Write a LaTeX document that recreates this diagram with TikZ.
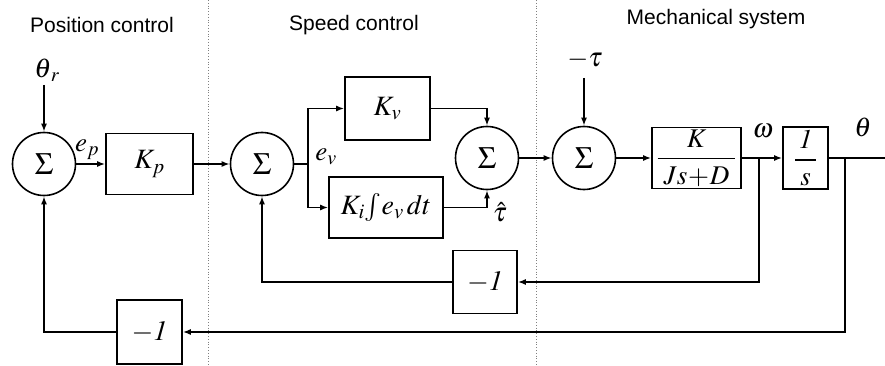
\documentclass[tikz,border=0pt]{standalone}
\usepackage{amsmath}
\usepackage{mathptmx}
\usepackage{fontspec}
\setsansfont{Liberation Sans}
\usetikzlibrary{arrows.meta}
\begin{document}
\begin{tikzpicture}[x=1pt,y=-1pt,
  line width=1.6pt,
  sumnode/.style={circle,draw,minimum size=63pt,inner sep=0pt,font=\fontsize{31}{34}\selectfont},
  blk/.style={rectangle,draw,inner sep=0pt,font=\fontsize{28}{32}\selectfont},
  fracblk/.style={rectangle,draw,inner sep=0pt,font=\fontsize{27}{31}\selectfont},
  lbl/.style={inner sep=0pt,font=\fontsize{27}{30}\selectfont},
  title/.style={inner sep=0pt,font=\sffamily\fontsize{21}{25}\selectfont},
  sep/.style={line width=0.8pt,gray,dotted},
  arr/.style={-{Latex[length=8pt,width=6pt]}}]
\useasboundingbox (0,0) rectangle (885,366);

% titles
\node[title] (t1) at (102,25) {Position control};
\node[title] (t2) at (354,25) {Speed control};
\node[title] (t3) at (716,19) {Mechanical system};

% separators
\coordinate (s1a) at (208,0); \coordinate (s1b) at (208,366);
\coordinate (s2a) at (536,0); \coordinate (s2b) at (536,366);
\draw[sep] (s1a) -- (s1b);
\draw[sep] (s2a) -- (s2b);

% nodes
\node[sumnode] (S1) at (44,164) {$\Sigma$};
\node[blk,minimum width=87pt,minimum height=61pt] (Kp) at (149.5,164) {$K_p$};
\node[sumnode] (S2) at (262,164) {$\Sigma$};
\node[blk,minimum width=85pt,minimum height=63pt] (Kv) at (387.5,108.5) {$K_v$};
\node[blk,minimum width=114pt,minimum height=61pt] (Ki) at (386,207.5) {$K_i\!\int\! e_v\,dt$};
\node[sumnode] (S3) at (487,158) {$\Sigma$};
\node[sumnode] (S4) at (584,158) {$\Sigma$};
\node[fracblk,minimum width=89pt,minimum height=61pt] (G) at (696.5,158) {$\dfrac{K}{\hspace{6pt}Js\mkern-2mu+\mkern-2mu D\hspace{6pt}}$};
\node[fracblk,minimum width=45pt,minimum height=62pt] (I) at (805.5,158) {$\dfrac{\mathit{1}}{\hspace{5pt}s\hspace{5pt}}$};
\node[blk,minimum width=64pt,minimum height=63pt] (F1) at (485,282) {$-\mathit{1}$};
\node[blk,minimum width=65pt,minimum height=64pt] (F2) at (149.5,332) {$-\mathit{1}$};

% labels
\node[lbl] (thr) at (47,70) {$\theta_{\,r}$};
\node[lbl] (ep) at (87,150) {$e_p$};
\node[lbl] (ev) at (326,157) {$e_v$};
\node[lbl] (tauh) at (500,212) {$\hat{\tau}$};
\node[lbl] (mtau) at (585,60) {$-\tau$};
\node[lbl] (om) at (763,131) {$\omega$};
\node[lbl] (th) at (863,127) {$\theta$};

% coordinates
\coordinate (thrin) at (44,85);
\coordinate (tauin) at (584,78);
\coordinate (b1) at (308,164);
\coordinate (b1u) at (308,108.5);
\coordinate (b1d) at (308,207.5);
\coordinate (c3u) at (487,108.5);
\coordinate (c3d) at (487,207.5);
\coordinate (bw) at (759,158);
\coordinate (bwd) at (759,282);
\coordinate (bt) at (845,158);
\coordinate (btd) at (845,332);
\coordinate (out) at (885,158);
\coordinate (f1l) at (262,282);
\coordinate (f2l) at (44,332);

% forward path
\draw[arr] (thrin) -- (S1.north);
\draw[arr] (S1.east) -- (Kp.west);
\draw[arr] (Kp.east) -- (S2.west);
\draw (S2.east) -- (b1);
\draw[arr] (b1) -- (b1u) -- (Kv.west);
\draw[arr] (b1) -- (b1d) -- (Ki.west);
\draw[arr] (Kv.east) -- (c3u) -- (S3.north);
\draw[arr] (Ki.east) -- (c3d) -- (S3.south);
\draw[arr] (S3.east) -- (S4.west);
\draw[arr] (tauin) -- (S4.north);
\draw[arr] (S4.east) -- (G.west);
\draw[arr] (G.east) -- (I.west);
\draw (I.east) -- (out);

% feedback
\draw[arr] (bw) -- (bwd) -- (F1.east);
\draw[arr] (F1.west) -- (f1l) -- (S2.south);
\draw[arr] (bt) -- (btd) -- (F2.east);
\draw[arr] (F2.west) -- (f2l) -- (S1.south);
\end{tikzpicture}
\end{document}
